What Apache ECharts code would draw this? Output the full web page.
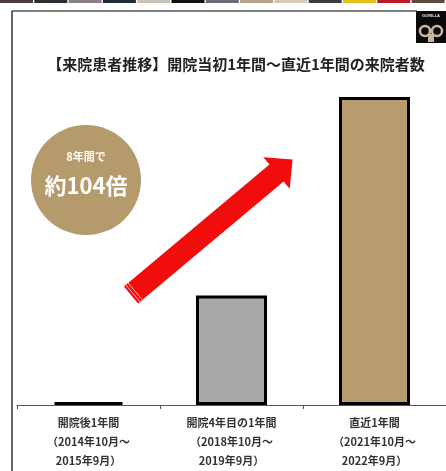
<!DOCTYPE html>
<html>
<head>
<meta charset="utf-8">
<script src="https://cdn.jsdelivr.net/npm/echarts@6/dist/echarts.min.js"></script>
<style>
  html, body { margin: 0; padding: 0; background: #fff; }
  #chart { width: 446px; height: 471px; }
</style>
</head>
<body>
<div id="chart"></div>
<script>
// Patient visits per year, relative index (first year = 1)
const periods = [
  '開院後1年間\n（2014年10月～\n2015年9月）',
  '開院4年目の1年間\n（2018年10月～\n2019年9月）',
  '直近1年間\n（2021年10月～\n2022年9月）'
];
const visits = [1, 37, 104];
const barColors = ['#000000', '#a9a9a9', '#b89c6e'];
const titleText = '【来院患者推移】開院当初1年間～直近1年間の来院者数';
const badgeLines = ['8年間で', '約104倍'];

const chart = echarts.init(document.getElementById('chart'), null, { renderer: 'canvas' });

// Red arrow: tail centre, neck (base of head), shaft / head half-widths, head length
function arrowPoints(tail, neck, shaftHalf, headHalf, headLen) {
  const dx = neck[0] - tail[0], dy = neck[1] - tail[1];
  const len = Math.hypot(dx, dy);
  const u = [dx / len, dy / len];
  const n = [-u[1], u[0]];
  const p = (base, s) => [base[0] + n[0] * s, base[1] + n[1] * s];
  const tip = [neck[0] + u[0] * headLen, neck[1] + u[1] * headLen];
  return {
    poly: [p(tail, shaftHalf), p(neck, shaftHalf), p(neck, headHalf), tip,
           p(neck, -headHalf), p(neck, -shaftHalf), p(tail, -shaftHalf)],
    u, n
  };
}
const tail = [131, 295];
const arrow = arrowPoints(tail, [276.5, 173], 11, 20.5, 21);
const stripe = (off) => {
  const c = [tail[0] + arrow.u[0] * off, tail[1] + arrow.u[1] * off];
  return { x1: c[0] + arrow.n[0] * 12, y1: c[1] + arrow.n[1] * 12,
           x2: c[0] - arrow.n[0] * 12, y2: c[1] - arrow.n[1] * 12 };
};

// Thin strip of photo thumbnails along the top edge
const stripColors = ['#4a3a3a', '#2b2b33', '#8a7f86', '#1f2a3a', '#c9c2b8', '#111111', '#6d6a75',
                     '#b8a48a', '#d7c9b5', '#3b3b3b', '#e3c21a', '#c01828', '#5a4a40'];
const strip = stripColors.map((c, i) => ({
  type: 'rect', shape: { x: i * 34.3, y: 0, width: 33, height: 3 }, style: { fill: c }, silent: true
}));

chart.setOption({
  animation: false,
  backgroundColor: '#ffffff',
  title: {
    text: titleText,
    left: 231,
    top: 52,
    textAlign: 'center',
    textStyle: { fontFamily: 'Noto Sans CJK JP', fontSize: 15, fontWeight: 'bold', color: '#222' }
  },
  grid: { left: 17, right: 0, top: 97, bottom: 66 },
  xAxis: {
    type: 'category',
    data: periods,
    axisLine: { lineStyle: { color: '#555', width: 1 } },
    axisTick: { show: true, length: 4, lineStyle: { color: '#555' } },
    axisLabel: {
      margin: 8,
      lineHeight: 19,
      fontFamily: 'Noto Sans CJK JP',
      fontSize: 11,
      fontWeight: 'bold',
      color: '#333',
      align: 'center'
    }
  },
  yAxis: { type: 'value', min: 0, max: 104, show: false },
  series: [{
    type: 'bar',
    barWidth: 71,
    data: visits.map((v, i) => ({
      value: v,
      itemStyle: { color: barColors[i], borderColor: '#000', borderWidth: 3 }
    }))
  }],
  graphic: [
    ...strip,
    // frame
    { type: 'line', shape: { x1: 12, y1: 11, x2: 417, y2: 11 }, style: { stroke: '#000', lineWidth: 1.2 }, silent: true },
    { type: 'line', shape: { x1: 12, y1: 11, x2: 12, y2: 471 }, style: { stroke: '#000', lineWidth: 1.2 }, silent: true },
    // logo
    { type: 'rect', shape: { x: 416, y: 11, width: 30, height: 32 }, style: { fill: '#0a0a0a' }, silent: true },
    { type: 'text', x: 431, y: 16, style: { text: 'GORILLA', fill: '#e8e8e8', fontSize: 4, fontWeight: 'bold', align: 'center', verticalAlign: 'middle' }, silent: true },
    { type: 'circle', shape: { cx: 425, cy: 31, r: 5 }, style: { fill: 'none', stroke: '#c8b89a', lineWidth: 2.5 }, silent: true },
    { type: 'circle', shape: { cx: 437, cy: 31, r: 5 }, style: { fill: 'none', stroke: '#c8b89a', lineWidth: 2.5 }, silent: true },
    { type: 'rect', shape: { x: 428, y: 34, width: 6, height: 8 }, style: { fill: '#c8b89a' }, silent: true },
    // badge
    { type: 'circle', shape: { cx: 86, cy: 180, r: 55 }, style: { fill: '#b59a6c' }, silent: true },
    { type: 'text', x: 86, y: 157, style: { text: badgeLines[0], fill: '#fff', fontSize: 11, fontWeight: 'bold', fontFamily: 'Noto Sans CJK JP', align: 'center', verticalAlign: 'middle' }, silent: true },
    { type: 'text', x: 86, y: 186, style: { text: badgeLines[1], fill: '#fff', fontSize: 22, fontWeight: 'bold', fontFamily: 'Noto Sans CJK JP', align: 'center', verticalAlign: 'middle' }, silent: true },
    // arrow
    { type: 'polygon', shape: { points: arrow.poly }, style: { fill: '#f20d0d' }, silent: true },
    { type: 'line', shape: stripe(2.5), style: { stroke: '#f6b8b8', lineWidth: 1 }, silent: true },
    { type: 'line', shape: stripe(5.5), style: { stroke: '#f6b8b8', lineWidth: 1 }, silent: true }
  ]
});
</script>
</body>
</html>
